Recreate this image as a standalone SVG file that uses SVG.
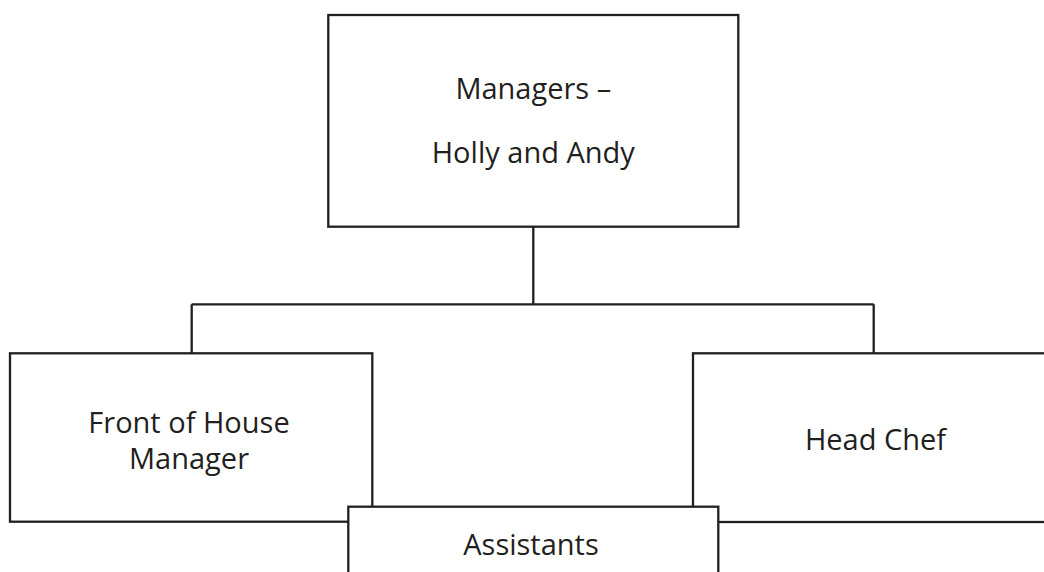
<svg xmlns="http://www.w3.org/2000/svg" width="1044" height="572" viewBox="0 0 1044 572">
<style>
.box{fill:#fff;stroke:#231f20;stroke-width:2.3}
.ln{fill:none;stroke:#231f20;stroke-width:2.3}
.t{font-family:"Open Sans","Noto Sans","Liberation Sans",sans-serif;font-size:29px;fill:#231f20;text-anchor:middle}
</style>
<rect width="1044" height="572" fill="#fff"/>
<g id="connectors">
<path class="ln" d="M533.3 227V304.3M191.7 304.3H873.7M191.7 304.3V353.3M873.7 304.3V353.3"/>
</g>
<g id="managers">
<rect class="box" x="328.3" y="15" width="410" height="211.7"/>
<text class="t" x="533.3" y="99">Managers –</text>
<text class="t" x="533.3" y="163.3">Holly and Andy</text>
</g>
<g id="front-of-house">
<rect class="box" x="10" y="353.3" width="362.3" height="168.4"/>
<text class="t" x="189" y="432.7">Front of House</text>
<text class="t" x="189" y="469.3">Manager</text>
</g>
<g id="head-chef">
<rect class="box" x="693" y="353.3" width="360" height="168.7"/>
<text class="t" x="875.5" y="450">Head Chef</text>
</g>
<g id="assistants">
<rect class="box" x="348.3" y="506.7" width="370" height="80"/>
<text class="t" x="531" y="555">Assistants</text>
</g>
</svg>
